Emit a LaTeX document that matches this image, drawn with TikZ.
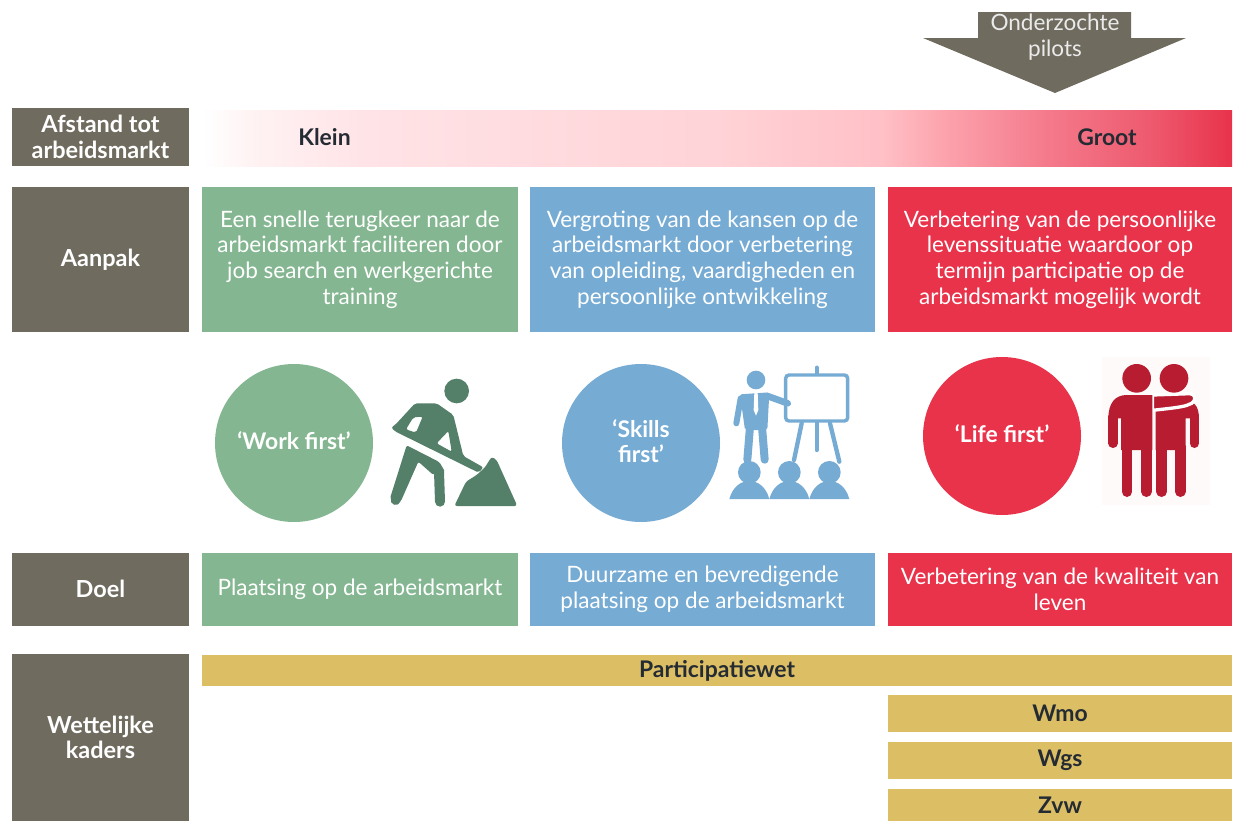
\documentclass[tikz,border=0pt]{standalone}
\usepackage{fontspec}
\setmainfont{Lato}
\definecolor{cgreen}{HTML}{84B791}
\definecolor{cblue}{HTML}{76ABD4}
\definecolor{cred}{HTML}{E8334B}
\definecolor{ctan}{HTML}{DCBF65}
\definecolor{cgray}{HTML}{6F6B5E}
\definecolor{cworker}{HTML}{54806A}
\definecolor{cdred}{HTML}{B71C31}
\definecolor{cink}{HTML}{252B33}
\pgfdeclarehorizontalshading{heatbar}{100bp}{
 color(0bp)=(white);
 color(25bp)=(white);
 color(27.5bp)=(rgb,255:red,255;green,242;blue,243);
 color(33bp)=(rgb,255:red,255;green,227;blue,230);
 color(50bp)=(rgb,255:red,255;green,211;blue,215);
 color(58bp)=(rgb,255:red,255;green,192;blue,198);
 color(61bp)=(rgb,255:red,252;green,163;blue,173);
 color(66bp)=(rgb,255:red,244;green,122;blue,139);
 color(71bp)=(rgb,255:red,238;green,90;blue,111);
 color(75bp)=(rgb,255:red,232;green,51;blue,75);
 color(100bp)=(rgb,255:red,232;green,51;blue,75)}
\tikzset{
 pbox/.style n args={2}{rectangle,inner sep=0pt,minimum width=#1*0.75pt,minimum height=#2*0.75pt,align=center,text=white},
 lab/.style={font=\bfseries\fontsize{17.6}{19}\selectfont,text=white},
 body/.style={font=\fontsize{16.9}{19.3}\selectfont,text=white},
 dark/.style={font=\bfseries\fontsize{17.2}{18}\selectfont,text=cink},
 circ/.style={circle,inner sep=0pt,minimum size=158*0.75pt},
 circtext/.style={align=center,inner sep=0pt,text=white,font=\bfseries\fontsize{17.2}{19}\selectfont},
 limb/.style={line width=#1*0.25pt,line cap=round,line join=round}
}
\begin{document}
\begin{tikzpicture}[x=0.75pt,y=-0.75pt]
\useasboundingbox (0,0) rectangle (1235,821);
% left column
\node[pbox={177}{58},fill=cgray,lab] (afstand) at (100.5,137) {Afstand tot\\arbeidsmarkt};
\node[pbox={177}{145},fill=cgray,lab] (aanpak) at (100.5,259.5) {Aanpak};
\node[pbox={177}{73},fill=cgray,lab] (doel) at (100.5,589.5) {\raisebox{1.5pt}{Doel}};
\node[pbox={177}{167},fill=cgray,lab] (kaders) at (100.5,737.5) {Wettelijke\\kaders};
% heat bar
\shade[shading=heatbar] (203,110) rectangle (1232,166);
\node[dark] (klein) at (324.5,137) {Klein};
\node[dark] (groot) at (1107,137) {Groot};
% arrow
\fill[cgray] (978,12) -- (1131,12) -- (1131,38) -- (1186,38) -- (1055,93) -- (923,38) -- (978,38) -- cycle;
\node[body,align=center,inner sep=0pt,text=white!92!black] (pilots) at (1055,37.5) {Onderzochte\\pilots};
% approach boxes
\node[pbox={316}{145},fill=cgreen,body] (a1) at (360,259.5) {\raisebox{-0.7pt}{Een snelle terugkeer naar de}\\\raisebox{-0.7pt}{arbeidsmarkt faciliteren door}\\\raisebox{-0.7pt}{job search en werkgerichte}\\\raisebox{-0.7pt}{training}};
\node[pbox={345}{145},fill=cblue,body] (a2) at (702.5,259.5) {\raisebox{-0.7pt}{Vergroting van de kansen op de}\\\raisebox{-0.7pt}{arbeidsmarkt door verbetering}\\\raisebox{-0.7pt}{van opleiding, vaardigheden en}\\\raisebox{-0.7pt}{persoonlijke ontwikkeling}};
\node[pbox={344}{145},fill=cred,body] (a3) at (1060,259.5) {\raisebox{-0.7pt}{Verbetering van de persoonlijke}\\\raisebox{-0.7pt}{levenssituatie waardoor op}\\\raisebox{-0.7pt}{termijn participatie op de}\\\raisebox{-0.7pt}{arbeidsmarkt mogelijk wordt}};
% circles
\node[circ,fill=cgreen] (c1) at (294,443) {};
\node[circ,fill=cblue] (c2) at (641,443) {};
\node[circ,fill=cred] (c3) at (1002,436) {};
\node[circtext] (t1) at (294,441) {‘Work first’};
\node[circtext] (t2) at (641,441) {‘Skills\\first’};
\node[circtext] (t3) at (1002,434) {‘Life first’};
% worker icon
\begin{scope}[shift={(380,360)},x=0.25pt,y=-0.25pt]
 \fill[cworker] (230,93) circle (37);
 \fill[cworker,rounded corners=1.5pt,even odd rule]
   (105,130) -- (170,130) -- (220,165) -- (250,288) -- (310,322) -- (296,338) -- (45,214) -- (34,203) -- (48,192) -- cycle
   (128,170) -- (100,172) -- (78,208) -- (108,218) -- cycle
   (205,213) -- (170,250) -- (215,275) -- cycle;
 \fill[cworker,rounded corners=1.5pt]
   (80,256) -- (178,306) -- (195,335) -- (160,345) -- (115,305) -- (62,425) -- (30,415) -- cycle;
 \draw[cworker,limb=30] (47,420) -- (58,385);
 \draw[cworker,limb=30] (177,335) -- (180,425);
 \fill[cworker,rounded corners=2pt]
   (223,438) -- (258,365) -- (290,345) -- (315,322) -- (335,290) -- (350,300) -- (412,438) -- cycle;
\end{scope}
% presenter icon
\begin{scope}[shift={(720,355)},x=0.25pt,y=-0.25pt]
 \draw[cblue,limb=13] (290,38) -- (290,285);
 \draw[cblue,limb=13] (245,205) -- (222,315);
 \draw[cblue,limb=13] (330,205) -- (358,320);
 \draw[cblue,line width=2.6pt,fill=white,rounded corners=2.5pt] (197,60) rectangle (383,198);
 \fill[cblue] (108,75) circle (28);
 \fill[cblue,rounded corners=1.5pt] (60,118) -- (148,112) -- (142,225) -- (75,225) -- cycle;
 \draw[cblue,limb=20] (145,124) -- (203,145);
 \draw[cblue,limb=18] (62,130) -- (49,205);
 \draw[cblue,limb=24] (90,215) -- (82,314);
 \draw[cblue,limb=24] (126,215) -- (134,314);
 \fill[white] (103,113) -- (113,113) -- (115,165) -- (108,182) -- (101,165) -- cycle;
 \foreach \cx in {88,208,328} {
  \fill[cblue] (\cx,352) circle (34);
  \fill[cblue] (\cx-60,432) .. controls (\cx-50,395) and (\cx-25,378) .. (\cx,378) .. controls (\cx+25,378) and (\cx+50,395) .. (\cx+60,432) -- cycle;
 }
\end{scope}
% two people icon
\fill[white!98!red] (1102,357) rectangle (1210,505);
\begin{scope}[shift={(1095,350)},x=0.25pt,y=-0.25pt]
 % right person
 \fill[cdred] (182,150) -- (280,150) .. controls (300,155) and (312,175) .. (312,205) -- (285,205) -- (272,205) -- (272,300) -- (182,300) -- cycle;
 \draw[cdred,limb=28] (298,200) -- (298,280);
 \draw[cdred,limb=32] (200,290) -- (200,425);
 \draw[cdred,limb=32] (256,290) -- (256,425);
 % hugging arm, with a white edge
 \draw[white,line width=2.5pt,fill=cdred,line join=round] (172,135) -- (285,131) .. controls (300,131) and (306,150) .. (290,160) .. controls (270,170) and (255,172) .. (172,181) -- cycle;
 \fill[cdred] (237,85) circle (43);
 \fill[cdred] (125,85) circle (43);
 % left person
 \fill[cdred] (40,205) .. controls (40,160) and (60,135) .. (95,135) -- (172,135) -- (172,300) -- (78,300) -- (78,205) -- cycle;
 \draw[cdred,limb=28] (54,200) -- (54,280);
 \draw[cdred,limb=32] (96,290) -- (96,425);
 \draw[cdred,limb=32] (154,290) -- (154,425);
\end{scope}
% goal boxes
\node[pbox={316}{73},fill=cgreen,body] (d1) at (360,589) {Plaatsing op de arbeidsmarkt};
\node[pbox={345}{73},fill=cblue,body] (d2) at (702.5,589.5) {Duurzame en bevredigende\\plaatsing op de arbeidsmarkt};
\node[pbox={344}{73},fill=cred,body] (d3) at (1060,589.5) {Verbetering van de kwaliteit van\\leven};
% law bars
\node[pbox={1030}{31},fill=ctan,dark] (part) at (717,670.5) {Participatiewet};
\node[pbox={344}{37},fill=ctan,dark] (wmo) at (1060,713.5) {Wmo};
\node[pbox={344}{37},fill=ctan,dark] (wgs) at (1060,760.5) {Wgs};
\node[pbox={344}{32},fill=ctan,dark] (zvw) at (1060,805) {Zvw};
\end{tikzpicture}
\end{document}
